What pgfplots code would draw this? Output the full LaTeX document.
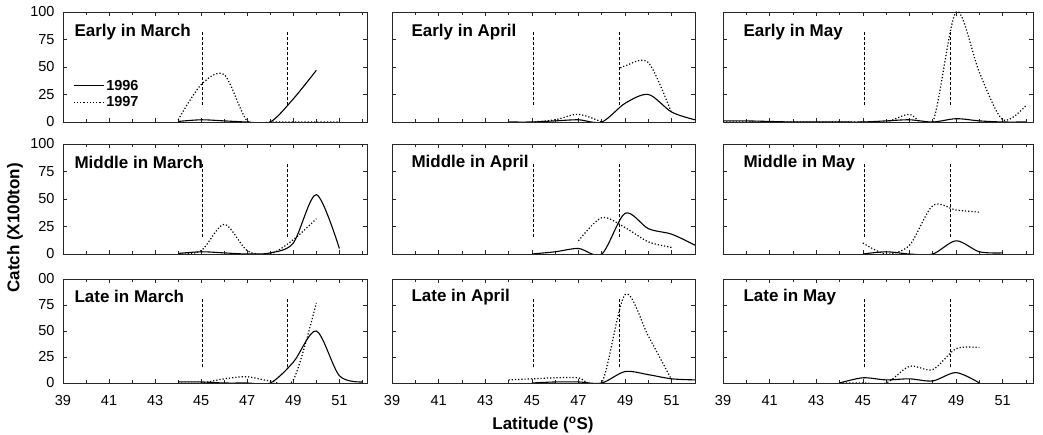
\documentclass[border=0pt]{standalone}
\usepackage{fontspec}
\setmainfont{Liberation Sans}
\usepackage{pgfplots}
\pgfplotsset{compat=1.18}
\tikzset{
  ttl/.style={anchor=west, font=\bfseries\fontsize{17}{17}\selectfont},
}
\pgfplotsset{
  panel/.style={
    scale only axis, xmin=39, ymin=0, ymax=100,
    ytick={0,25,50,75,100}, xtick={39,41,...,51},
    minor xtick={40,42,...,52},
    tick align=inside, major tick length=4pt, minor tick length=3pt,
    axis line style={line width=0.8pt, black!85},
    tick style={black!85, line width=0.6pt},
    xticklabels={}, yticklabels={},
    /pgf/number format/assume math mode=true,
    ticklabel style={font=\fontsize{14.5}{14.5}\selectfont},
    xticklabel style={yshift=-9pt},
    yticklabel style={xshift=-5pt},
    clip=true,
  },
  c1/.style={width=304pt, xmax=52.2},
  c2/.style={width=303pt, xmax=52.0},
  c3/.style={width=310pt, xmax=52.3},
  s96/.style={black, line width=1.1pt, smooth, tension=0.5, no marks},
  s97/.style={black, line width=1.2pt, dotted, smooth, tension=0.5, no marks},
  vd/.style={black, line width=0.8pt, densely dashed, no marks, forget plot},
}
\newcommand{\vlines}{%
  \addplot[vd] coordinates {(45.05,15) (45.05,82)};
  \addplot[vd] coordinates {(48.75,15) (48.75,82)};
}
\begin{document}
\begin{tikzpicture}
\path[use as bounding box] (0pt,0pt) rectangle (1043pt,435pt);
% ---------- Row 1 ----------
\begin{axis}[panel, c1, height=110pt, at={(63pt,313pt)}, anchor=south west,
  yticklabels={0,25,50,75,100},
  legend style={draw=none, fill=none, at={(axis cs:39.3,42)}, anchor=north west,
    font=\bfseries\fontsize{14.5}{14.5}\selectfont, row sep=1pt,
    /tikz/every even column/.append style={column sep=4pt}},
  legend cell align=left,
  legend image code/.code={\draw[#1] (0pt,0pt) -- (30pt,0pt);}]
\addplot[s96] coordinates {(44,0.5) (45,2) (46,1) (47,0) (48,0) (49,21) (50,47)};
\addlegendentry{1996}
\addplot[s97] coordinates {(44,2) (45,34) (46,43) (47,1) (48,0) (49,0) (50,0) (51,0)};
\addlegendentry{1997}
\vlines
\node[ttl] at ([xshift=8pt]rel axis cs:0,0.82) {Early in March};
\end{axis}
\begin{axis}[panel, c2, height=110pt, at={(392pt,313pt)}, anchor=south west]
\addplot[s96] coordinates {(44,0) (45,0) (46,1) (47,2) (48,0) (49,17) (50,25) (51,9) (52,2)};
\addplot[s97] coordinates {(45,0) (46,2) (47,7) (48,0)};
\addplot[s97] coordinates {(48.8,49) (49,51) (50,54) (51,8)};
\vlines
\node[ttl] at ([xshift=16pt]rel axis cs:0,0.82) {Early in April};
\end{axis}
\begin{axis}[panel, c3, height=110pt, at={(723pt,313pt)}, anchor=south west]
\addplot[s96] coordinates {(39,1) (40,1) (41,0.5) (42,0) (43,0) (44,0) (45,0) (46,1) (47,2) (48,0) (49,3) (50,1) (51,0) (52,0)};
\addplot[s97] coordinates {(39,0) (40,0) (41,0) (42,0) (43,0) (44,0) (45,0) (46,0) (47,7) (48,0) (49,100) (50,45) (51,2) (52,15)};
\vlines
\node[ttl] at ([xshift=17pt]rel axis cs:0,0.82) {Early in May};
\end{axis}
% ---------- Row 2 ----------
\begin{axis}[panel, c1, height=110pt, at={(63pt,181pt)}, anchor=south west,
  yticklabels={0,25,50,75,100}]
\addplot[s96] coordinates {(44,0.5) (45,2) (46,1) (47,0) (48,1) (49,10) (50,54) (51,5)};
\addplot[s97] coordinates {(44,0) (45,3) (46,27) (47,3) (48,0) (49,13) (50,32)};
\vlines
\node[ttl] at ([xshift=8pt]rel axis cs:0,0.83) {Middle in March};
\end{axis}
\begin{axis}[panel, c2, height=110pt, at={(392pt,181pt)}, anchor=south west]
\addplot[s96] coordinates {(45,0) (46,2) (47,5) (48,0) (49,37) (50,23) (51,18) (52,8)};
\addplot[s97] coordinates {(47,12) (48,33) (49,24) (50,11) (51,6)};
\vlines
\node[ttl] at ([xshift=16pt]rel axis cs:0,0.83) {Middle in April};
\end{axis}
\begin{axis}[panel, c3, height=110pt, at={(723pt,181pt)}, anchor=south west]
\addplot[s96] coordinates {(45,0) (46,2) (47,0) (48,0) (49,12) (50,2) (51,1)};
\addplot[s97] coordinates {(45,10) (46,0) (47,8) (48,44) (49,40) (50,38)};
\vlines
\node[ttl] at ([xshift=17pt]rel axis cs:0,0.83) {Middle in May};
\end{axis}
% ---------- Row 3 ----------
\begin{axis}[panel, c1, height=104pt, at={(63pt,52pt)}, anchor=south west,
  yticklabels={0,25,50,75,00}, xticklabels={39,41,43,45,47,49,51}]
\addplot[s96] coordinates {(44,1) (45,1) (46,0) (47,0) (48,0) (49,20) (50,50) (51,7) (52,1)};
\addplot[s97] coordinates {(44,0) (45,0) (46,4) (47,6) (48,2) (49,3) (50,77)};
\vlines
\node[ttl] at ([xshift=8pt]rel axis cs:0,0.83) {Late in March};
\end{axis}
\begin{axis}[panel, c2, height=104pt, at={(392pt,52pt)}, anchor=south west,
  xticklabels={39,41,43,45,47,49,51}]
\addplot[s96] coordinates {(45,0) (46,1) (47,1) (48,0) (49,11) (50,8) (51,4) (52,3)};
\addplot[s97] coordinates {(44,3) (45,4) (46,5) (47,5) (48,0) (49,85) (50,45) (51,3)};
\vlines
\node[ttl] at ([xshift=16pt]rel axis cs:0,0.83) {Late in April};
\end{axis}
\begin{axis}[panel, c3, height=104pt, at={(723pt,52pt)}, anchor=south west,
  xticklabels={39,41,43,45,47,49,51}]
\addplot[s96] coordinates {(44,0) (45,5) (46,3) (47,4) (48,2) (49,10) (50,0)};
\addplot[s97] coordinates {(44,0) (45,0) (46,0) (47,16) (48,13) (49,33) (50,34)};
\vlines
\node[ttl] at ([xshift=17pt]rel axis cs:0,0.83) {Late in May};
\end{axis}
% ---------- Axis labels ----------
\node[rotate=90, font=\bfseries\fontsize{17}{17}\selectfont] at (15pt,207pt) {Catch (X100ton)};
\node[font=\bfseries\fontsize{17}{17}\selectfont] at (543pt,10pt) {Latitude (\textsuperscript{o}S)};
\end{tikzpicture}
\end{document}
